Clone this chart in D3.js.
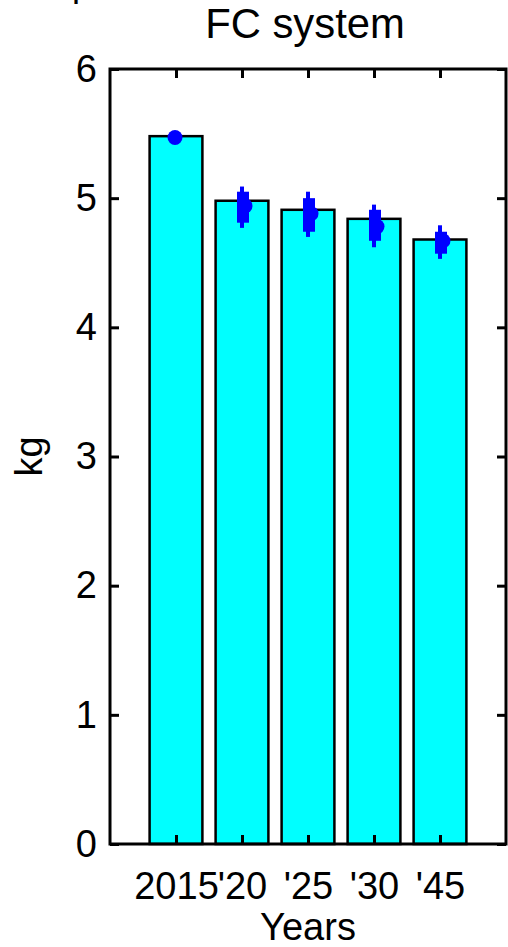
<!DOCTYPE html>
<html>
<head>
<meta charset="utf-8">
<script src="https://cdn.jsdelivr.net/npm/d3@7"></script>
<style>
    body { margin: 0; background: #fff; }
    svg { display: block; }
    text { font-family: "Liberation Sans", Arial, sans-serif; fill: #000; }
</style>
</head>
<body>
<div id="chart"></div>
<script>
// values
const years = ['2015', "'20", "'25", "'30", "'45"];
const barValues = [5.48, 4.98, 4.91, 4.84, 4.68];
const meanValues = [5.47, 4.94, 4.88, 4.78, 4.67];
const whiskerLow = [null, 4.77, 4.70, 4.62, 4.53];
const whiskerHigh = [null, 5.09, 5.05, 4.95, 4.79];
const boxLow = [null, 4.81, 4.74, 4.67, 4.57];
const boxHigh = [null, 5.05, 5.00, 4.91, 4.74];
const yTicks = [0, 1, 2, 3, 4, 5, 6];

const width = 508;
const height = 947;
const plot = { left: 110, top: 69, right: 506, bottom: 844 };
const fontSize = 38;

const svg = d3.select('#chart').append('svg')
    .attr('width', width)
    .attr('height', height);

const x = d3.scaleLinear().domain([0, 6]).range([plot.left, plot.right]);
const y = d3.scaleLinear().domain([0, 6]).range([plot.bottom, plot.top]);
const pos = years.map((d, i) => i + 1);
const barW = x(0.8) - x(0);

// leftover glyph from a neighbouring panel, cut by the top edge
svg.append('text').attr('x', 72).attr('y', -4).attr('font-size', 36).text('p');

// bars
svg.append('g').selectAll('rect')
    .data(barValues)
    .join('rect')
    .attr('x', (d, i) => x(pos[i]) - barW / 2)
    .attr('y', d => y(d))
    .attr('width', barW)
    .attr('height', d => y(0) - y(d))
    .attr('fill', '#00ffff')
    .attr('stroke', '#000')
    .attr('stroke-width', 2.5);

// spread of the estimates
const spread = svg.append('g').attr('fill', '#0000ff');
barValues.forEach((d, i) => {
    const cx = x(pos[i]);
    if (whiskerLow[i] !== null) {
        spread.append('rect')
            .attr('x', cx - 2)
            .attr('y', y(whiskerHigh[i]))
            .attr('width', 4)
            .attr('height', y(whiskerLow[i]) - y(whiskerHigh[i]));
        spread.append('rect')
            .attr('x', cx - 5)
            .attr('y', y(boxHigh[i]))
            .attr('width', 12)
            .attr('height', y(boxLow[i]) - y(boxHigh[i]));
    }
    spread.append('circle')
        .attr('cx', whiskerLow[i] !== null ? cx + 3 : cx - 1)
        .attr('cy', y(meanValues[i]))
        .attr('r', 7.5);
});

// axes, ticks pointing inward as in the original
const yLeft = d3.axisLeft(y).tickValues(yTicks).tickSize(-9).tickPadding(13).tickFormat(d3.format('d'));
const yRight = d3.axisRight(y).tickValues(yTicks).tickSize(-9).tickFormat('');
const xBottom = d3.axisBottom(x).tickValues(pos).tickSize(-9).tickPadding(28).tickFormat((d, i) => years[i]);
const xTop = d3.axisTop(x).tickValues(pos).tickSize(-9).tickFormat('');

function styleAxis(g) {
    g.select('.domain').remove();
    g.selectAll('line').attr('stroke', '#000').attr('stroke-width', 3);
    g.selectAll('text').attr('font-size', fontSize).attr('font-family', '"Liberation Sans", Arial, sans-serif');
}

svg.append('g').attr('transform', `translate(${plot.left},0)`).call(yLeft).call(styleAxis);
svg.append('g').attr('transform', `translate(${plot.right},0)`).call(yRight).call(styleAxis);
svg.append('g').attr('transform', `translate(0,${plot.bottom})`).call(xBottom).call(styleAxis);
svg.append('g').attr('transform', `translate(0,${plot.top})`).call(xTop).call(styleAxis);

// frame
svg.append('rect')
    .attr('x', plot.left)
    .attr('y', plot.top)
    .attr('width', plot.right - plot.left)
    .attr('height', plot.bottom - plot.top)
    .attr('fill', 'none')
    .attr('stroke', '#000')
    .attr('stroke-width', 3);

// labels
svg.append('text')
    .attr('x', 305)
    .attr('y', 38)
    .attr('text-anchor', 'middle')
    .attr('font-size', fontSize * 1.1)
    .text('FC system');

svg.append('text')
    .attr('x', (plot.left + plot.right) / 2)
    .attr('y', 940)
    .attr('text-anchor', 'middle')
    .attr('font-size', fontSize)
    .text('Years');

svg.append('text')
    .attr('transform', `translate(42,${(plot.top + plot.bottom) / 2}) rotate(-90)`)
    .attr('text-anchor', 'middle')
    .attr('font-size', fontSize)
    .text('kg');
</script>
</body>
</html>
